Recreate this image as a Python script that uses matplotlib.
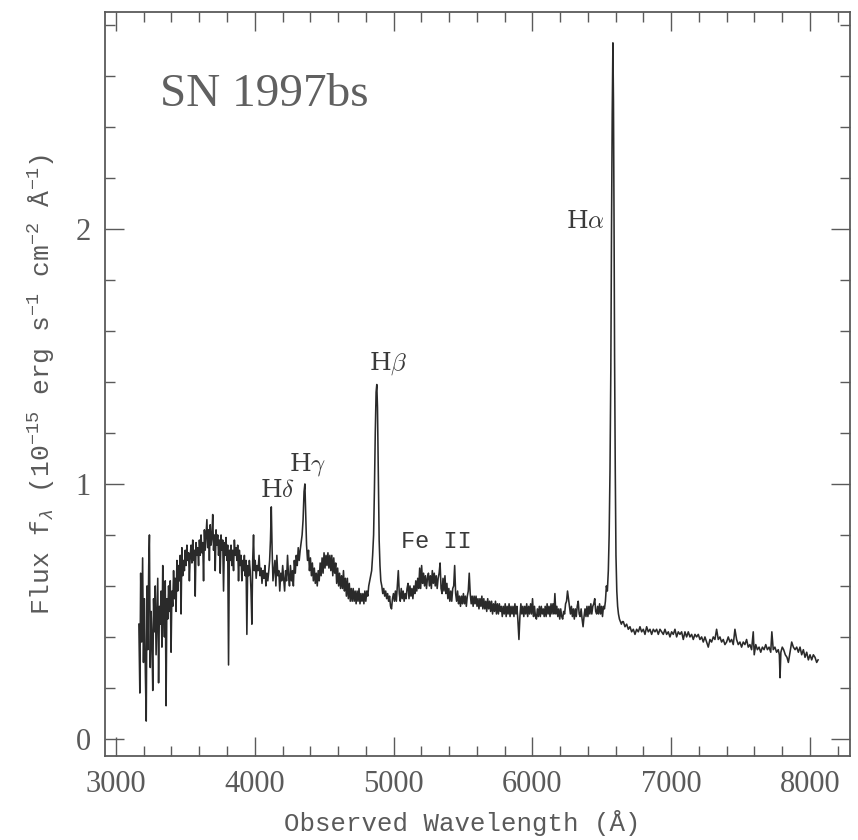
import matplotlib
matplotlib.use("Agg")
import matplotlib.pyplot as plt
from matplotlib.ticker import MultipleLocator

# ---------------- data ----------------
wavelength = [
    3165, 3172, 3178, 3185, 3192, 3198, 3205, 3212, 3218, 3224, 3230, 3236, 3241, 3247, 3253, 3259,
    3265, 3271, 3277, 3283, 3289, 3295, 3301, 3307, 3313, 3319, 3325, 3331, 3337, 3343, 3349, 3355,
    3361, 3367, 3373, 3379, 3385, 3391, 3397, 3403, 3409, 3415, 3421, 3427, 3433, 3439, 3445, 3451,
    3457, 3463, 3469, 3475, 3481, 3487, 3493, 3499, 3505, 3511, 3517, 3523, 3529, 3535, 3541, 3547,
    3553, 3559, 3565, 3571, 3577, 3583, 3589, 3595, 3601, 3607, 3613, 3619, 3625, 3631, 3637, 3643,
    3649, 3655, 3661, 3667, 3673, 3679, 3685, 3691, 3697, 3703, 3709, 3715, 3721, 3727, 3733, 3739,
    3745, 3751, 3757, 3763, 3769, 3775, 3781, 3787, 3793, 3799, 3805, 3811, 3817, 3823, 3829, 3835,
    3841, 3847, 3853, 3859, 3865, 3871, 3877, 3883, 3889, 3895, 3901, 3907, 3913, 3919, 3925, 3931,
    3937, 3943, 3949, 3955, 3961, 3967, 3973, 3979, 3985, 3991, 3997,
    4003, 4010, 4017, 4024, 4031, 4038, 4045, 4052, 4059, 4066, 4073, 4080, 4087, 4094, 4101, 4107,
    4113, 4119, 4125, 4131, 4138, 4145, 4152, 4159, 4166, 4173, 4180, 4187, 4194, 4201, 4208, 4215,
    4222, 4229, 4236, 4243, 4250, 4257, 4264, 4271, 4278, 4285, 4292, 4299, 4306, 4313, 4320, 4327,
    4334, 4341, 4348, 4355, 4361, 4367, 4373, 4380, 4387, 4394, 4401, 4408, 4415, 4422, 4429, 4436,
    4443, 4450, 4457, 4464, 4471, 4478, 4485, 4492, 4499, 4506, 4513, 4520, 4527, 4534, 4541, 4548,
    4555, 4562, 4569, 4576, 4583, 4590, 4597, 4604, 4611, 4618, 4625, 4632, 4639, 4646, 4653, 4660,
    4667, 4674, 4681, 4688, 4695, 4702, 4709, 4716, 4723, 4730, 4737, 4744, 4751, 4758, 4765, 4772,
    4779, 4786, 4793, 4800, 4807, 4814, 4821, 4828, 4835, 4842, 4849, 4856, 4862, 4868, 4874, 4879,
    4884, 4890, 4896, 4902, 4908, 4915, 4922, 4929, 4936, 4943, 4950, 4957, 4964, 4971, 4978, 4985,
    4992, 4999, 5006, 5013, 5020, 5027, 5034, 5041, 5048, 5055, 5062, 5069, 5076, 5083, 5090, 5097,
    5104, 5111, 5118, 5125, 5132, 5139, 5146, 5153, 5160, 5167, 5174, 5181, 5188, 5195, 5202, 5209,
    5216, 5223, 5230, 5237, 5244, 5251, 5258, 5265, 5272, 5279, 5286, 5293, 5300, 5307, 5314, 5321,
    5328, 5335, 5342, 5349, 5356, 5363, 5370, 5377, 5384, 5391, 5398, 5405, 5412, 5419, 5426, 5433,
    5440, 5447, 5454, 5461, 5468, 5475, 5482, 5489, 5496, 5503, 5510, 5517, 5524, 5531, 5538, 5545,
    5552, 5559, 5566, 5573, 5580, 5587, 5594, 5601, 5608, 5615, 5622, 5629, 5636, 5643, 5650, 5657,
    5664, 5671, 5678, 5685, 5692, 5699, 5706, 5713, 5720, 5727, 5734, 5741, 5748, 5755, 5762, 5769,
    5776, 5783, 5790, 5797, 5804, 5811, 5818, 5825, 5832, 5839, 5846, 5853, 5860, 5867, 5874, 5881,
    5888, 5895, 5903, 5910, 5917, 5924, 5931, 5938, 5945, 5952, 5959, 5966, 5973, 5980, 5987, 5994,
    6001, 6008, 6015, 6022, 6029, 6036, 6043, 6050, 6057, 6064, 6071, 6078, 6085, 6092, 6099, 6106,
    6113, 6120, 6127, 6134, 6141, 6148, 6155, 6162, 6169, 6176, 6183, 6190, 6197, 6204, 6211, 6218,
    6225, 6232, 6239, 6246, 6253, 6260, 6267, 6274, 6281, 6288, 6295, 6302, 6309, 6316, 6323, 6330,
    6337, 6344, 6351, 6358, 6365, 6372, 6379, 6386, 6393, 6400, 6407, 6414, 6421, 6428, 6435, 6442,
    6449, 6456, 6463, 6470, 6477, 6484, 6491, 6498, 6505, 6512, 6519, 6526, 6533, 6540, 6547, 6553,
    6559, 6565, 6570, 6575, 6580, 6584, 6588, 6592, 6597, 6602, 6608, 6614, 6620, 6627, 6634, 6641,
    6648, 6655, 6667, 6679, 6691, 6703, 6715, 6727, 6739, 6751, 6763, 6775, 6787, 6799, 6811, 6823,
    6835, 6847, 6859, 6871, 6883, 6895, 6907, 6919, 6931, 6943, 6955, 6967, 6979, 6991, 7003, 7015,
    7027, 7039, 7051, 7063, 7075, 7087, 7099, 7111, 7123, 7135, 7147, 7159, 7171, 7183, 7195, 7207,
    7219, 7231, 7243, 7255, 7267, 7279, 7291, 7303, 7315, 7327, 7339, 7351, 7363, 7375, 7387, 7399,
    7411, 7423, 7435, 7447, 7459, 7471, 7483, 7495, 7507, 7519, 7531, 7543, 7555, 7567, 7579, 7591,
    7598, 7609, 7621, 7633, 7645, 7657, 7669, 7681, 7693, 7705, 7717, 7725, 7735, 7747, 7759, 7771,
    7779, 7784, 7790, 7800, 7810, 7822, 7834, 7844, 7856, 7868, 7880, 7892, 7904, 7916, 7928, 7940,
    7952, 7964, 7976, 7988, 8000, 8012, 8024, 8036, 8048, 8058,
]

flux = [
    0.45, 0.18, 0.65, 0.38, 0.71, 0.30, 0.55, 0.25, 0.07, 0.60, 0.35, 0.68, 0.80, 0.28, 0.50, 0.40,
    0.19, 0.55, 0.42, 0.60, 0.33, 0.48, 0.63, 0.22, 0.52, 0.45, 0.58, 0.36, 0.68, 0.50, 0.40, 0.62,
    0.13, 0.55, 0.47, 0.60, 0.50, 0.62, 0.34, 0.58, 0.52, 0.66, 0.55, 0.63, 0.50, 0.70, 0.58, 0.68,
    0.62, 0.72, 0.49, 0.75, 0.64, 0.70, 0.66, 0.74, 0.68, 0.76, 0.70, 0.73, 0.62, 0.72, 0.76, 0.69,
    0.78, 0.70, 0.74, 0.56, 0.77, 0.72, 0.75, 0.68, 0.78, 0.72, 0.80, 0.73, 0.77, 0.62, 0.82, 0.74,
    0.80, 0.86, 0.75, 0.82, 0.70, 0.84, 0.76, 0.79, 0.88, 0.74, 0.80, 0.66, 0.82, 0.76, 0.80, 0.72,
    0.78, 0.65, 0.80, 0.74, 0.78, 0.58, 0.77, 0.72, 0.79, 0.70, 0.76, 0.29, 0.74, 0.70, 0.76, 0.68,
    0.74, 0.66, 0.78, 0.72, 0.75, 0.70, 0.76, 0.62, 0.74, 0.68, 0.72, 0.62, 0.70, 0.66, 0.72, 0.64,
    0.70, 0.41, 0.68, 0.64, 0.70, 0.66, 0.58, 0.45, 0.70, 0.80, 0.66,
    0.70, 0.63, 0.68, 0.66, 0.72, 0.64, 0.67, 0.61, 0.66, 0.63, 0.68, 0.60, 0.65, 0.62, 0.66, 0.70,
    0.78, 0.91, 0.74, 0.62, 0.66, 0.70, 0.60, 0.72, 0.64, 0.66, 0.58, 0.65, 0.62, 0.68, 0.63, 0.58,
    0.66, 0.62, 0.72, 0.64, 0.60, 0.68, 0.62, 0.66, 0.60, 0.70, 0.65, 0.72, 0.68, 0.75, 0.70, 0.74,
    0.77, 0.80, 0.86, 0.97, 1.00, 0.88, 0.76, 0.70, 0.74, 0.66, 0.71, 0.64, 0.69, 0.62, 0.67, 0.61,
    0.65, 0.60, 0.66, 0.62, 0.69, 0.64, 0.71, 0.65, 0.73, 0.67, 0.72, 0.68, 0.73, 0.67, 0.72, 0.66,
    0.72, 0.64, 0.71, 0.65, 0.69, 0.61, 0.67, 0.60, 0.65, 0.59, 0.64, 0.59, 0.66, 0.58, 0.63, 0.56,
    0.63, 0.55, 0.61, 0.54, 0.59, 0.54, 0.59, 0.54, 0.58, 0.53, 0.58, 0.54, 0.59, 0.53, 0.57, 0.54,
    0.57, 0.53, 0.58, 0.54, 0.58, 0.56, 0.60, 0.62, 0.64, 0.66, 0.72, 0.80, 0.98, 1.20, 1.36, 1.39,
    1.30, 1.05, 0.78, 0.68, 0.62, 0.60, 0.57, 0.59, 0.56, 0.58, 0.55, 0.57, 0.54, 0.56, 0.52, 0.51,
    0.55, 0.57, 0.54, 0.58, 0.54, 0.60, 0.66, 0.57, 0.54, 0.59, 0.55, 0.58, 0.54, 0.57, 0.55, 0.59,
    0.61, 0.55, 0.60, 0.56, 0.59, 0.55, 0.60, 0.57, 0.62, 0.58, 0.63, 0.59, 0.67, 0.59, 0.68, 0.61,
    0.65, 0.60, 0.64, 0.59, 0.63, 0.65, 0.60, 0.64, 0.59, 0.66, 0.61, 0.65, 0.60, 0.64, 0.59, 0.63,
    0.65, 0.69, 0.59, 0.57, 0.63, 0.58, 0.64, 0.57, 0.61, 0.55, 0.59, 0.54, 0.58, 0.54, 0.59, 0.60,
    0.68, 0.57, 0.54, 0.58, 0.53, 0.56, 0.52, 0.56, 0.53, 0.57, 0.53, 0.56, 0.52, 0.56, 0.58, 0.65,
    0.57, 0.53, 0.56, 0.52, 0.56, 0.53, 0.56, 0.52, 0.55, 0.51, 0.55, 0.52, 0.56, 0.51, 0.55, 0.51,
    0.54, 0.50, 0.55, 0.51, 0.54, 0.50, 0.54, 0.49, 0.53, 0.50, 0.54, 0.49, 0.53, 0.49, 0.53, 0.50,
    0.52, 0.48, 0.52, 0.49, 0.53, 0.48, 0.52, 0.49, 0.53, 0.48, 0.52, 0.49, 0.52, 0.48, 0.53, 0.49,
    0.52, 0.47, 0.39, 0.48, 0.53, 0.49, 0.52, 0.48, 0.52, 0.49, 0.53, 0.48, 0.52, 0.49, 0.53, 0.49,
    0.55, 0.48, 0.52, 0.48, 0.47, 0.51, 0.48, 0.52, 0.48, 0.52, 0.49, 0.51, 0.48, 0.52, 0.48, 0.53,
    0.49, 0.52, 0.48, 0.53, 0.49, 0.53, 0.49, 0.57, 0.49, 0.52, 0.48, 0.51, 0.47, 0.51, 0.48, 0.47,
    0.50, 0.49, 0.53, 0.54, 0.58, 0.55, 0.52, 0.49, 0.52, 0.48, 0.51, 0.47, 0.51, 0.48, 0.52, 0.54,
    0.49, 0.48, 0.51, 0.47, 0.44, 0.48, 0.51, 0.48, 0.52, 0.48, 0.52, 0.49, 0.53, 0.49, 0.52, 0.53,
    0.55, 0.50, 0.49, 0.52, 0.49, 0.53, 0.49, 0.52, 0.48, 0.52, 0.51, 0.54, 0.60, 0.58, 0.66, 0.80,
    1.05, 1.45, 2.00, 2.45, 2.73, 2.50, 2.05, 1.50, 1.05, 0.72, 0.58, 0.52, 0.49, 0.47, 0.46, 0.45,
    0.46, 0.46, 0.44, 0.45, 0.43, 0.44, 0.42, 0.43, 0.41, 0.43, 0.42, 0.44, 0.42, 0.43, 0.41, 0.44,
    0.42, 0.43, 0.41, 0.43, 0.42, 0.43, 0.41, 0.43, 0.42, 0.41, 0.43, 0.41, 0.42, 0.40, 0.42, 0.41,
    0.43, 0.40, 0.42, 0.41, 0.42, 0.39, 0.42, 0.40, 0.42, 0.40, 0.41, 0.39, 0.41, 0.40, 0.41, 0.39,
    0.40, 0.38, 0.40, 0.38, 0.36, 0.39, 0.38, 0.40, 0.39, 0.43, 0.39, 0.40, 0.38, 0.39, 0.37, 0.38,
    0.40, 0.38, 0.39, 0.37, 0.43, 0.39, 0.37, 0.38, 0.36, 0.38, 0.37, 0.39, 0.36, 0.37, 0.35, 0.42,
    0.33, 0.37, 0.35, 0.36, 0.34, 0.36, 0.35, 0.37, 0.35, 0.36, 0.34, 0.42, 0.35, 0.36, 0.34, 0.35,
    0.33, 0.24, 0.34, 0.36, 0.35, 0.33, 0.32, 0.30, 0.34, 0.38, 0.36, 0.35, 0.36, 0.34, 0.36, 0.33,
    0.35, 0.32, 0.34, 0.31, 0.33, 0.31, 0.33, 0.32, 0.30, 0.31,
]

line_labels = ["H$\\alpha$", "H$\\beta$", "H$\\gamma$", "H$\\delta$"]
line_label_x = [6379, 4960, 4383, 4167]
line_label_y = [2.03, 1.47, 1.075, 0.976]

feii_label = "Fe II"
feii_x, feii_y = 5305, 0.776

object_name = "SN 1997bs"
xlabel_text = "Observed Wavelength (Å)"
ylabel_text = "Flux f$_\\lambda$ (10$^{-15}$ erg s$^{-1}$ cm$^{-2}$ Å$^{-1}$)"

# ---------------- plotting ----------------
plt.rcParams["mathtext.fontset"] = "custom"
plt.rcParams["mathtext.rm"] = "Liberation Mono"
plt.rcParams["mathtext.it"] = "Liberation Mono:italic"

grey = "#5a5a5a"
fig = plt.figure(figsize=(8.58, 8.40), dpi=100)
ax = fig.add_axes([105 / 858, 84 / 840, 745 / 858, 744 / 840])

ax.plot(wavelength, flux, color="#2a2a2a", lw=1.15)

ax.set_xlim(2921, 8288)
ax.set_ylim(-0.067, 2.851)

ax.xaxis.set_major_locator(MultipleLocator(1000))
ax.xaxis.set_minor_locator(MultipleLocator(200))
ax.yaxis.set_major_locator(MultipleLocator(1))
ax.yaxis.set_minor_locator(MultipleLocator(0.2))

ax.tick_params(which="both", direction="in", top=True, right=True, color=grey, width=1.0)
ax.tick_params(which="major", length=14, pad=10)
ax.tick_params(which="minor", length=7)
for lab in ax.get_xticklabels() + ax.get_yticklabels():
    lab.set_fontfamily("Liberation Serif")
    lab.set_fontsize(22)
    lab.set_color(grey)
for sp in ax.spines.values():
    sp.set_color(grey)
    sp.set_linewidth(1.3)

ax.set_xlabel(xlabel_text, fontfamily="Liberation Mono", fontsize=18.5, color=grey)
ax.xaxis.set_label_coords(0.479, -0.073)
ax.set_ylabel(ylabel_text, fontfamily="Liberation Mono", fontsize=19, color=grey)
ax.yaxis.set_label_coords(-0.065, 0.5)

ax.text(3317, 2.525, object_name, fontfamily="Liberation Serif", fontsize=34,
        color="#606060", ha="left", va="center")

for t, x, y in zip(line_labels, line_label_x, line_label_y):
    ax.text(x, y, t, fontsize=18, color="#3a3a3a", ha="center", va="center",
            fontfamily="DejaVu Serif", math_fontfamily="cm")

ax.text(feii_x, feii_y, feii_label, fontfamily="Liberation Mono", fontsize=17,
        color="#3a3a3a", ha="center", va="center")

fig.savefig("out.png", dpi=100)
